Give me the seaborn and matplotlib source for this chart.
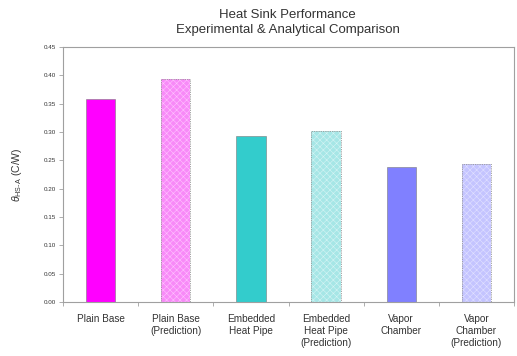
import matplotlib
matplotlib.use("Agg")
import matplotlib.pyplot as plt
import seaborn as sns
import pandas as pd
from matplotlib.ticker import MultipleLocator, FixedLocator

categories = [
    "Plain Base",
    "Plain Base\n(Prediction)",
    "Embedded\nHeat Pipe",
    "Embedded\nHeat Pipe\n(Prediction)",
    "Vapor\nChamber",
    "Vapor\nChamber\n(Prediction)",
]
resistance = [0.358, 0.393, 0.293, 0.302, 0.239, 0.243]
is_prediction = [False, True, False, True, False, True]
bar_colors = ["#FF00FF", "#F88AF8", "#33CCCC", "#A6E6E6", "#8080FF", "#C4C4FF"]
hatch_colors = [None, "#FFC4FF", None, "#D6F4F4", None, "#E2E2FF"]

sns.set_theme(style="white")
plt.rcParams["font.family"] = ["Liberation Sans", "DejaVu Sans"]
plt.rcParams["mathtext.fontset"] = "custom"
plt.rcParams["mathtext.rm"] = "Liberation Sans"
plt.rcParams["mathtext.it"] = "Liberation Sans:italic"

df = pd.DataFrame({"config": categories, "theta": resistance})

fig = plt.figure(figsize=(5.17, 3.56), dpi=100)
ax = fig.add_axes([0.1219, 0.1517, 0.8723, 0.7163])

sns.barplot(data=df, x="config", y="theta", hue="config", palette=bar_colors,
            width=0.39, saturation=1, legend=False, ax=ax)

for patch, pred, hcol in zip(ax.patches, is_prediction, hatch_colors):
    if pred:
        patch.set_hatch("xxxxx")
        patch.set_edgecolor(hcol)
        patch.set_linewidth(0.0)
        try:
            patch.set_hatch_linewidth(0.4)
        except AttributeError:
            pass
        # dotted outline drawn over the hatched body
        x0, w, h = patch.get_x(), patch.get_width(), patch.get_height()
        ax.bar(x0 + w / 2, h, width=w, fill=False, edgecolor="#9A9A9A",
               linewidth=0.6, linestyle=(0, (1.5, 1.2)), zorder=3)
    else:
        patch.set_edgecolor("#7A7A7A")
        patch.set_linewidth(0.4)

ax.set_xlim(-0.5, len(categories) - 0.5)
ax.set_ylim(0, 0.45)
ax.yaxis.set_major_locator(MultipleLocator(0.05))
ax.yaxis.set_major_formatter(matplotlib.ticker.FormatStrFormatter("%.2f"))
ax.xaxis.set_minor_locator(FixedLocator([i - 0.5 for i in range(len(categories) + 1)]))

for side in ax.spines.values():
    side.set_color("#A0A0A0")
    side.set_linewidth(0.8)

ax.tick_params(axis="y", which="major", direction="out", length=3, width=0.6,
               color="#A0A0A0", labelsize=4.5, labelcolor="#333333", pad=2, left=True)
ax.tick_params(axis="x", which="major", length=0, labelsize=7.2, labelcolor="#333333", pad=9)
ax.tick_params(axis="x", which="minor", direction="out", length=3, width=0.6,
               color="#A0A0A0", bottom=True)

ax.set_xlabel("")
ax.set_ylabel(r"$\theta_{\mathrm{HS\text{-}A}}$ (C/W)", fontsize=7.5, color="#333333", labelpad=14)

fig.suptitle("Heat Sink Performance\nExperimental & Analytical Comparison",
             x=0.556, y=0.975, fontsize=9.5, color="#333333", linespacing=1.3)

fig.savefig("out.png", dpi=100)
